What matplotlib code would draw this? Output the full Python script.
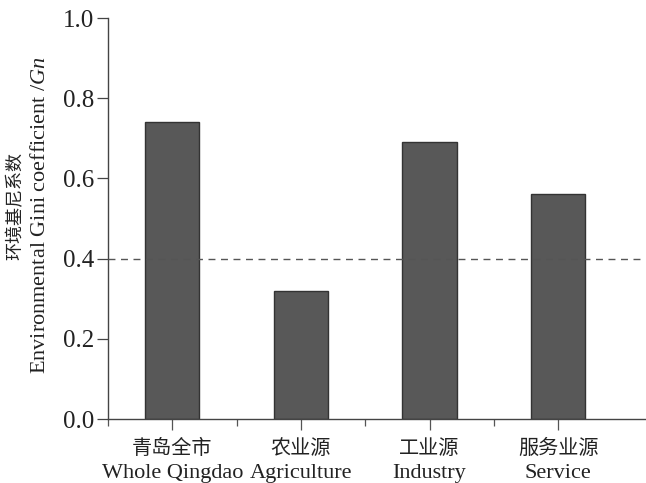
import numpy as np
import matplotlib
matplotlib.use('Agg')
import matplotlib.pyplot as plt
from matplotlib.ticker import FixedLocator
from matplotlib.transforms import blended_transform_factory

plt.rcParams['font.family'] = ['Liberation Serif', 'Noto Sans CJK SC']
plt.rcParams['mathtext.fontset'] = 'custom'
plt.rcParams['mathtext.rm'] = 'Liberation Serif'
plt.rcParams['mathtext.it'] = 'Liberation Serif:italic'

# 各来源的环境基尼系数
categories_cn = ['青岛全市', '农业源', '工业源', '服务业源']
categories_en = ['Whole Qingdao', 'Agriculture', 'Industry', 'Service']
gini = [0.74, 0.32, 0.69, 0.56]
warn_line = 0.4
yticks = [0.0, 0.2, 0.4, 0.6, 0.8, 1.0]

W, H = 646, 483
fig = plt.figure(figsize=(W / 100, H / 100), dpi=100)
ax = fig.add_axes([108 / W, 1 - 419 / H, 1 - 108 / W, (419 - 18) / H])

x = np.arange(len(gini))
ax.bar(x, gini, width=0.42, color='#585858', edgecolor='#333333', linewidth=1.0, zorder=2)
ax.axhline(warn_line, color='#555555', linestyle=(0, (5, 4)), linewidth=1.0, zorder=3)

ax.set_xlim(-0.5, (W - 108) / 128.6 - 0.5)
ax.set_ylim(0, 1.0)
ax.set_yticks(yticks)
ax.set_yticklabels(['%.1f' % v for v in yticks])

ax.set_xticks(x)
ax.set_xticklabels([])
ax.xaxis.set_minor_locator(FixedLocator(np.arange(-0.5, 3, 1.0)))

# 类别标签：中文在上，英文在下
trans = blended_transform_factory(ax.transData, ax.transAxes)
for xi, cn, en in zip(x, categories_cn, categories_en):
    ax.text(xi, -0.077, cn, transform=trans, ha='center', va='center', fontsize=14.5,
            color='#222222', clip_on=False)
    ax.text(xi, -0.136, en, transform=trans, ha='center', va='center', fontsize=16,
            color='#222222', clip_on=False)

ax.tick_params(axis='y', direction='out', length=8, width=0.9, labelsize=18, pad=2,
               colors='#444444', labelcolor='#222222')
ax.tick_params(axis='x', which='major', direction='out', length=8, width=0.9, colors='#555555')
ax.tick_params(axis='x', which='minor', direction='out', length=5, width=0.9, colors='#555555')

for side in ['top', 'right']:
    ax.spines[side].set_visible(False)
for side in ['left', 'bottom']:
    ax.spines[side].set_color('#444444')
    ax.spines[side].set_linewidth(1.0)

fig.text(16 / W, 1 - 206 / H, '环境基尼系数', rotation=90, ha='center', va='center',
         fontsize=13, color='#222222')
fig.text(41 / W, 1 - 215 / H, 'Environmental Gini coefficient /$\\it{Gn}$', rotation=90,
         ha='center', va='center', fontsize=16, color='#222222')

fig.savefig('out.png', dpi=100)
